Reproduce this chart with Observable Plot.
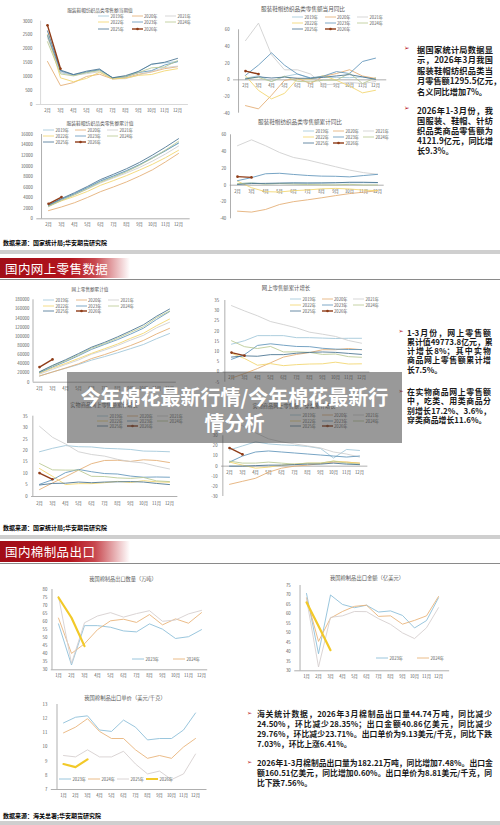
<!DOCTYPE html>
<html><head><meta charset="utf-8">
<script src="https://cdn.jsdelivr.net/npm/d3@7"></script>
<script src="https://cdn.jsdelivr.net/npm/@observablehq/plot@0.6"></script>
<style>
html,body{margin:0;padding:0;background:#fff;}
#page{position:relative;width:500px;height:825px;overflow:hidden;font-family:"Noto Sans CJK SC","Noto Sans",sans-serif;background:#fff;}
.ttl{position:absolute;transform:translate(-50%,-50%);white-space:nowrap;color:#595959;line-height:1;}
.lg{position:absolute;display:flex;align-items:center;white-space:nowrap;color:#595959;line-height:1;}
.lg svg{margin-right:1.5px;display:block;}
.txt{position:absolute;font-weight:700;color:#1a1a1a;}
.txt .ln{white-space:nowrap;}
.txt .j{text-align:justify;text-align-last:justify;}
.bul{position:absolute;color:#b5121b;font-family:"DejaVu Sans";}
.src{position:absolute;font-weight:700;font-size:6px;color:#000;white-space:nowrap;line-height:1;}
.strip{position:absolute;left:0;width:500px;background:#cfcfcf;}
.band{position:absolute;left:0;width:500px;background:linear-gradient(to right,#a10d17 0px,#b3141d 70px,rgba(190,40,48,0.85) 95px,rgba(255,255,255,0) 130px);color:#fff;font-size:12.5px;letter-spacing:0.4px;padding-left:5px;box-sizing:border-box;display:flex;align-items:center;}
.hline{position:absolute;left:0;width:500px;height:1px;background:#8a8a8a;}
#overlay{position:absolute;left:67px;top:372px;width:335px;height:71px;background:rgba(70,70,70,0.55);color:#fff;font-weight:700;font-size:20px;line-height:26px;text-align:center;padding-top:12px;box-sizing:border-box;}
</style></head><body><div id="page"></div>
<script>
// ---------- categories ----------
const monthsFeb = ["2月","3月","4月","5月","6月","7月","8月","9月","10月","11月","12月"];
const monthsJan = ["1月","2月","3月","4月","5月","6月","7月","8月","9月","10月","11月","12月"];
const years = ["2019年","2020年","2021年","2022年","2023年","2024年","2025年","2026年"];
const yearColors = ["#9ec5d8","#e3ab70","#cdcdcd","#f2d46a","#5e93b9","#b8c890","#45708f","#8f3c17"];
const expYears = ["2023年","2024年","2025年","2026年"];
const expColors = ["#8fc0d9","#e9b47c","#d6cfcf","#f2c928"];

// ---------- 服装鞋帽纺织品类零售额当期值 (亿元), order = years ----------
const retailMonth = [
  [2500,1150,1050,1150,1250,960,1000,1200,1450,1500,1550],
  [1550,680,790,1010,1090,920,960,1090,1170,1290,1360],
  [2400,1180,1050,1110,1180,920,930,1060,1190,1330,1380],
  [2520,960,820,940,1160,920,950,1050,1080,1210,1290],
  [2480,1210,1070,1170,1250,970,1000,1150,1220,1420,1540],
  [2260,1100,1030,1150,1220,950,1010,1150,1320,1350,1580],
  [2650,1240,1080,1200,1280,960,1040,1190,1450,1520,1660],
  [2850,1290]
];
// ---------- 当月同比 (%) ----------
const retailMonthYoY = [
  [1.8,5.0,-2.0,4.0,7.0,1.7,3.0,3.0,2.6,3.5,1.0],
  [-30.9,-34.8,-18.5,-0.6,1.7,-4.4,4.2,7.6,12.1,4.6,1.7],
  [47,68,30,12,12,7,-6,-5,-3,-4.5,-2],
  [4.8,-12.7,-22.8,-16.2,1.2,0.8,5.1,-0.6,-7.5,-15.6,-12.5],
  [5.4,17.7,32.4,17.6,6.9,2.3,4.5,9.9,7.5,22.0,26.0],
  [1.9,2.8,-2.0,4.4,-1.9,-2.3,-0.4,-0.4,8.0,-4.5,2.6],
  [1.0,3.6,2.2,3.3,1.9,1.8,3.1,4.7,6.3,3.5,0.6],
  [10.5,7.0]
];
// ---------- 累计值 (亿元) ----------
const retailCum = [
  [2500,3650,4700,5850,7100,8050,9050,10250,11700,13000,14300],
  [1550,2250,3050,4050,5150,6050,7000,8100,9300,10800,12400],
  [2350,3500,4550,5650,6800,7750,8700,9750,10950,12300,13800],
  [2450,3400,4250,5200,6350,7250,8200,9250,10350,11600,13000],
  [2500,3700,4750,5950,7200,8150,9150,10300,11550,12900,14400],
  [2300,3500,4550,5700,6950,7900,8950,10150,11500,13050,14700],
  [2650,3850,4950,6150,7450,8450,9500,10700,12100,13600,15200],
  [2850,4121.9]
];
// ---------- 累计同比 (%) ----------
const retailCumYoY = [
  [1.8,3.0,1.5,2.2,3.0,2.8,2.9,2.9,2.9,3.0,2.9],
  [-30.9,-32.0,-28.9,-23.0,-19.6,-17.4,-15.0,-12.4,-10.0,-8.3,-6.6],
  [47,54,47,39,33,30,26,22,18,15,13],
  [4.8,-3.0,-7.7,-8.1,-6.5,-5.7,-4.3,-3.8,-4.5,-5.9,-6.5],
  [5.4,9.0,13.6,14.2,12.8,11.6,10.8,10.6,9.9,11.5,12.9],
  [1.9,2.5,1.3,2.0,1.3,0.8,0.5,0.4,1.0,0.3,0.3],
  [0.8,2.0,2.2,2.5,2.6,2.5,2.6,2.9,3.5,3.5,3.2],
  [10.2,9.3]
];
// ---------- 网上零售额累计值 (亿元) ----------
const onlineCum = [
  [13285,22379,30439,38641,48161,55863,64212,73238,82422,94958,106324],
  [13712,22169,30998,40176,51501,60267,69937,80065,91275,105374,117601],
  [17587,28093,38549,48536,61133,70111,80142,91871,102488,118749,130884],
  [19526,31007,40943,51700,63007,73042,83338,95675,106998,123410,137853],
  [21005,33251,45003,57900,71621,82400,93000,105000,118000,137000,154264],
  [22335,35412,47000,60000,74300,84500,96000,108900,121200,141000,155225],
  [22700,36700,49000,62500,76500,87000,99000,112000,125500,144000,159700],
  [33000,49773.8]
];
// ---------- 网上零售额累计增长 (%) ----------
const onlineCumYoY = [
  [13.6,15.3,17.8,17.8,17.8,16.8,16.8,16.6,16.4,16.5,16.5],
  [-3.0,-0.8,1.7,4.5,7.3,8.6,9.5,10.9,10.9,11.5,10.9],
  [32.5,29.9,27.5,24.7,23.2,21.6,19.5,18.5,17.4,15.4,14.1],
  [9.2,6.6,3.3,4.1,3.1,3.6,3.9,4.0,4.8,3.9,4.0],
  [6.2,8.5,13.0,13.8,13.1,12.5,12.4,11.6,11.2,11.0,11.0],
  [15.3,12.4,11.5,12.5,9.8,9.9,9.6,8.6,8.8,7.5,7.2],
  [7.3,7.9,7.7,8.5,8.5,9.2,9.6,9.8,9.6,9.1,8.6],
  [9.5,8.0]
];
// ---------- 实物商品网上零售额累计增长 (%) ----------
const physicalCumYoY = [
  [19.5,21.0,22.2,21.7,21.6,21.0,20.8,20.5,19.8,19.7,19.5],
  [3.0,5.9,8.6,11.5,14.3,15.7,15.8,15.3,16.0,15.7,14.8],
  [30.6,25.8,22.9,19.5,18.3,17.6,16.2,15.2,14.6,13.2,12.0],
  [12.2,8.8,5.2,5.6,5.6,6.0,6.6,6.1,6.9,6.4,6.2],
  [5.3,7.3,10.4,11.8,10.8,10.0,9.8,8.9,8.4,8.5,8.4],
  [14.4,11.6,11.5,11.5,8.8,8.7,8.1,7.9,8.3,6.8,6.5],
  [5.0,5.7,5.8,6.3,6.0,6.3,6.4,6.5,6.3,5.7,5.2],
  [10.2,7.5]
];
// ---------- 穿类商品网上零售额累计增长 (%) ----------
const wearCumYoY = [
  [16,20,24,22,21,20.5,19.5,17.5,8,16.5,15.5],
  [-18,-15,-12,-6,-2,0,1,2.5,4,4,3],
  [45,40,33,27,24,22,20,18,14,12,9],
  [4,1,-2,-1,1,2,3,3,5,4,3],
  [4,10,14,15,14,13,12,11,10,9,10],
  [5,3,3,4,3,2,3,3,5,3,2],
  [0,0,0.5,1,1,1.5,2,2,3,2,1.5],
  [18,11.6]
];
// ---------- 棉制品出口, order = expYears ----------
const exportQty = [
  [58.6,33.0,57.5,57.5,56.5,54.2,53.6,58.6,55.3,49.5,50.6,55.0],
  [62.2,40.2,46.2,55.0,60.5,61.5,59.5,64.4,58.0,61.7,59.0,65.6],
  [75.6,34.0,59.3,63.5,65.6,62.8,65.0,66.8,60.2,61.0,64.8,67.0],
  [75.0,62.4,44.74]
];
const exportValue = [
  [70.8,39.0,70.0,65.0,63.3,64.6,61.0,61.6,59.2,52.6,56.5,68.5],
  [68.5,45.5,57.8,61.3,64.0,64.6,58.7,59.0,54.6,56.6,59.0,69.2],
  [68.0,32.0,58.2,59.0,61.3,61.2,57.5,54.5,50.0,47.0,52.7,63.3],
  [66.1,53.6,40.86]
];
const exportPrice = [
  [11.7,12.1,12.2,11.2,11.1,11.9,11.4,10.5,10.6,10.6,11.2,12.4],
  [11.0,11.4,12.0,11.1,10.6,10.6,9.8,9.2,9.4,9.2,10.0,10.6],
  [9.4,9.3,9.8,9.3,9.3,9.7,8.8,8.1,8.3,7.7,8.1,9.5],
  [8.8,8.58,9.13]
];
// ---------- tick labels ----------
const ticksA = [0,500,1000,1500,2000,2500,3000];
const ticksB = [-40,-20,0,20,40,60];
const ticksC = [0,2000,4000,6000,8000,10000,12000,14000,16000];
const ticksE = [0,20000,40000,60000,80000,100000,120000,140000,160000,180000];
const ticksF = [-5,0,5,10,15,20,25,30,35];
const ticksG = [0,5,10,15,20,25,30,35];
const ticksH = [-30,-20,-10,0,10,20,30];
const ticksI = [30,35,40,45,50,55,60,65,70,75,80];
const ticksJ = [30,35,40,45,50,55,60,65,70,75];
const ticksK = [7,8,9,10,11,12,13];

const page = document.getElementById("page");
function el(tag, cls, css, html) {
  const e = document.createElement(tag);
  if (cls) e.className = cls;
  if (css) e.style.cssText = css;
  if (html != null) e.innerHTML = html;
  page.appendChild(e);
  return e;
}

function drawChart(c) {
  const n = c.cats.length;
  const step = (c.xN - c.x1) / (n - 1);
  const mL = c.x1 - step / 2 - c.left;
  const mR = c.left + c.width - (c.xN + step / 2);
  const mT = c.yTopPx - c.top;
  const mB = c.top + c.height - c.yBotPx;
  const base = c.base != null ? c.base : c.yDomain[0];
  const marks = [
    Plot.ruleY([base], {stroke: c.axisColor || "#8c8c8c", strokeWidth: 0.7}),
    Plot.ruleX([c.cats[0]], {dx: -step / 2, stroke: c.axisColor || "#8c8c8c", strokeWidth: 0.7}),
    Plot.axisY({ticks: c.ticks, tickSize: 0, tickPadding: c.tickPad || 4, fontSize: c.fs, label: null, tickFormat: d => String(d)}),
    Plot.text(c.cats, {x: d => d, y: base, dy: c.labelDy, fontSize: c.fs, text: d => d, fill: "currentColor"})
  ];
  c.series.forEach(s => {
    const rows = s.values.map((v, j) => ({m: c.cats[j], v}));
    marks.push(Plot.line(rows, {x: "m", y: "v", stroke: s.color, strokeWidth: s.w}));
    if (s.marker) marks.push(Plot.dot(rows, {x: "m", y: "v", r: s.marker, fill: s.color, stroke: "none"}));
  });
  const svg = Plot.plot({
    width: c.width, height: c.height,
    marginLeft: mL, marginRight: mR, marginTop: mT, marginBottom: mB,
    x: {type: "point", domain: c.cats, padding: 0.5, axis: null},
    y: {domain: c.yDomain, label: null},
    style: {color: "#595959", background: "transparent", fontFamily: "'Noto Sans CJK SC', sans-serif", overflow: "visible"},
    marks
  });
  svg.style.position = "absolute";
  svg.style.left = c.left + "px";
  svg.style.top = c.top + "px";
  page.appendChild(svg);
}

function yearSeries(data) {
  return data.map((v, i) => ({values: v, color: yearColors[i], w: i === 7 ? 1.4 : 0.85, marker: i === 7 ? 1.3 : 0}));
}
function expSeries(data) {
  return data.map((v, i) => ({values: v, color: expColors[i], w: i === 3 ? 2.2 : 0.9, marker: 0}));
}
function swatch(color, w, marker, len) {
  return `<svg width="${len}" height="4"><line x1="0" y1="2" x2="${len}" y2="2" stroke="${color}" stroke-width="${w}"/>` +
    (marker ? `<circle cx="${len/2}" cy="2" r="1.3" fill="${color}"/>` : "") + `</svg>`;
}
function legendGrid(left, top, colW, rowH, fs) {
  years.forEach((y, i) => {
    const col = i % 3, row = Math.floor(i / 3);
    el("div", "lg", `left:${left + col * colW}px;top:${top + row * rowH - 2}px;font-size:${fs}px;`,
      swatch(yearColors[i], i === 7 ? 1.4 : 0.8, i === 7, 11) + y);
  });
}
function legendRow(positions, y, idx, fs) {
  idx.forEach((k, j) => {
    el("div", "lg", `left:${positions[j]}px;top:${y - 2}px;font-size:${fs}px;`,
      swatch(expColors[k], k === 3 ? 2 : 0.9, false, 12) + expYears[k]);
  });
}
function title(x, y, text, fs) {
  el("div", "ttl", `left:${x}px;top:${y}px;font-size:${fs}px;`, text);
}
function textBlock(left, top, width, fs, lh, lines) {
  const html = lines.map((l, i) => `<div class="ln ${l[1] ? "j" : ""}" style="height:${lh}px;line-height:${lh}px;">${l[0]}</div>`).join("");
  el("div", "txt", `left:${left}px;top:${top}px;width:${width}px;font-size:${fs}px;`, html);
}
function bullet(x, y, fs) {
  el("div", "bul", `left:${x}px;top:${y}px;font-size:${fs}px;line-height:1;`, "➢");
}

// ================= Section 1 =================
title(100, 10, "服装鞋帽纺织品类零售额当期值", 4.7);
drawChart({left: 0, top: 14, width: 200, height: 102, cats: monthsFeb, x1: 42.7, xN: 181,
  yDomain: [0, 3000], yTopPx: 20.7, yBotPx: 104, ticks: ticksA, fs: 4.3, labelDy: 6,
  axisColor: "#c8c8c8", series: yearSeries(retailMonth)});
legendGrid(98, 15.7, 33.5, 6.6, 4.2);

title(303, 10, "服装鞋帽纺织品类零售额当月同比", 5.6);
drawChart({left: 200, top: 14, width: 200, height: 102, cats: monthsFeb, x1: 240, xN: 379.3,
  yDomain: [-40, 60], yTopPx: 29.3, yBotPx: 112.7, base: 0, ticks: ticksB, fs: 4.3, labelDy: 5.7,
  series: yearSeries(retailMonthYoY)});
legendGrid(292, 17.3, 32.5, 6, 4.2);

title(100, 123.3, "服装鞋帽纺织品类零售额累计值", 4.8);
drawChart({left: 0, top: 128, width: 200, height: 102, cats: monthsFeb, x1: 43.3, xN: 182.7,
  yDomain: [0, 16000], yTopPx: 134, yBotPx: 218.3, ticks: ticksC, fs: 4.3, labelDy: 6,
  series: yearSeries(retailCum)});
legendGrid(43, 130, 32, 5.8, 4.2);

title(300, 123.3, "服装鞋帽纺织品类零售额累计同比", 5.6);
drawChart({left: 200, top: 128, width: 200, height: 100, cats: monthsFeb, x1: 236.7, xN: 376.7,
  yDomain: [-40, 60], yTopPx: 134.3, yBotPx: 218.3, base: 0, ticks: ticksB, fs: 4.3, labelDy: 6.5,
  series: yearSeries(retailCumYoY)});
legendGrid(303, 131, 30, 6.2, 4.2);

bullet(404, 44.5, 6.5);
textBlock(417, 43.5, 76, 8.2, 10.6, [
  ["据国家统计局数据显", 1], ["示，2026年3月我国", 1], ["服装鞋帽纺织品类当", 1],
  ["月零售额1295.5亿元，", 0], ["名义同比增加7%。", 0]]);
bullet(404, 105, 6.5);
textBlock(417, 104.5, 76, 8.2, 10.2, [
  ["2026年1-3月份，我", 1], ["国服装、鞋帽、针纺", 1], ["织品类商品零售额为", 1],
  ["4121.9亿元，同比增", 1], ["长9.3%。", 0]]);

el("div", "src", "left:3px;top:239.7px;", "数据来源：国家统计局;华安期货研究院");

// ================= Section 2 header =================
el("div", "strip", "top:250px;height:4px;");
el("div", "band", "top:258px;height:20px;", "国内网上零售数据");
el("div", "hline", "top:279px;");

title(90, 289, "网上零售额累计值", 4.6);
drawChart({left: 0, top: 294, width: 200, height: 100, cats: monthsFeb, x1: 39.3, xN: 169.3,
  yDomain: [0, 180000], yTopPx: 299.3, yBotPx: 381.7, ticks: ticksE, fs: 4.3, labelDy: 6.3,
  series: yearSeries(onlineCum)});
legendGrid(43, 300, 32.5, 5.5, 4.2);

title(286, 289.3, "网上零售额累计增长", 5.4);
drawChart({left: 195, top: 294, width: 190, height: 92, cats: monthsFeb, x1: 229.3, xN: 362.7,
  yDomain: [-5, 35], yTopPx: 300, yBotPx: 381.7, base: 0, ticks: ticksF, fs: 4.3, labelDy: 6,
  series: yearSeries(onlineCumYoY)});
legendGrid(290, 299.3, 31.5, 5.7, 4.2);

title(104, 405, "实物商品网上零售额累计增长", 5.2);
drawChart({left: 0, top: 410, width: 200, height: 100, cats: monthsFeb, x1: 37.7, xN: 170.7,
  yDomain: [0, 35], yTopPx: 415.7, yBotPx: 496, ticks: ticksG, fs: 4.3, labelDy: 7,
  series: yearSeries(physicalCumYoY)});
legendGrid(97, 416, 30, 5, 4.2);

title(294, 406, "实物商品网上零售额：穿类累计增长", 5.2);
drawChart({left: 195, top: 430, width: 190, height: 72, cats: monthsFeb, x1: 227.7, xN: 360.7,
  yDomain: [-30, 30], yTopPx: 435.3, yBotPx: 496, base: 0, ticks: ticksH, fs: 4.3, labelDy: 6.4,
  series: yearSeries(wearCumYoY)});
legendGrid(290, 415, 31.5, 5.5, 4.2);

bullet(398.5, 328, 6);
textBlock(407, 327.6, 84, 7.9, 9.3, [
  ["1-3月份，网上零售额", 1], ["累计值49773.8亿元，累", 1], ["计增长8%；其中实物", 1],
  ["商品网上零售额累计增", 1], ["长7.5%。", 0]]);
bullet(398.5, 387.5, 6);
textBlock(407, 387, 84, 7.9, 9.3, [
  ["在实物商品网上零售额", 1], ["中，吃类、用类商品分", 1], ["别增长17.2%、3.6%，", 1],
  ["穿类商品增长11.6%。", 0]]);

el("div", "src", "left:3px;top:525.3px;", "数据来源：国家统计局;华安期货研究院");

// ================= Section 3 header =================
el("div", "strip", "top:535px;height:4px;");
el("div", "band", "top:541px;height:21px;", "国内棉制品出口");
el("div", "hline", "top:563px;");

title(123, 579, "我国棉制品出口数量（万吨）", 5.2);
drawChart({left: 0, top: 584, width: 215, height: 96, cats: monthsJan, x1: 57.3, xN: 200.7,
  yDomain: [30, 80], yTopPx: 589, yBotPx: 669.3, ticks: ticksI, fs: 4.3, labelDy: 6,
  series: expSeries(exportQty)});
legendRow([132, 173], 659, [0, 1], 4.2);

title(367, 579, "我国棉制品出口金额（亿美元）", 5.3);
drawChart({left: 250, top: 580, width: 210, height: 100, cats: monthsJan, x1: 300.7, xN: 442.7,
  yDomain: [30, 75], yTopPx: 585, yBotPx: 670.3, ticks: ticksJ, fs: 4.3, labelDy: 6,
  series: expSeries(exportValue)});
legendRow([376, 417], 658, [0, 1], 4.2);

title(125, 699, "我国棉制品出口单价（美元/千克）", 5.3);
drawChart({left: 0, top: 700, width: 215, height: 100, cats: monthsJan, x1: 57.3, xN: 200,
  yDomain: [7, 13], yTopPx: 704, yBotPx: 789, ticks: ticksK, fs: 4.3, labelDy: 6.5,
  series: expSeries(exportPrice)});
legendRow([59, 88, 117, 146], 779, [0, 1, 2, 3], 4.2);

bullet(247, 710, 6);
textBlock(257, 709, 235, 7.8, 10, [
  ["海关统计数据，2026年3月棉制品出口量44.74万吨，同比减少", 1],
  ["24.50%，环比减少28.35%；出口金额40.86亿美元，同比减少", 1],
  ["29.76%，环比减少23.71%。出口单价为9.13美元/千克，同比下跌", 1],
  ["7.03%，环比上涨6.41%。", 0]]);
bullet(247, 758.5, 6);
textBlock(257, 757.7, 235, 7.8, 10.2, [
  ["2026年1-3月棉制品出口量为182.21万吨，同比增加7.48%。出口金", 1],
  ["额160.51亿美元，同比增加0.60%。出口单价为8.81美元/千克，同", 1],
  ["比下跌7.56%。", 0]]);

el("div", "src", "left:3px;top:813px;", "数据来源：海关总署;华安期货研究院");
el("div", "strip", "top:821px;height:4px;");

// ================= overlay title =================
el("div", null, null, null).id = "overlay";
document.getElementById("overlay").innerHTML = "今年棉花最新行情/今年棉花最新行<br>情分析";
</script>
</body></html>
